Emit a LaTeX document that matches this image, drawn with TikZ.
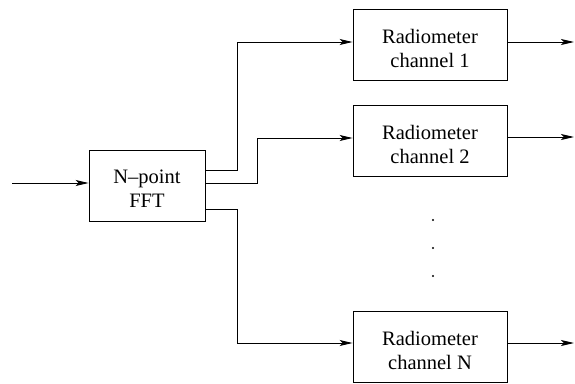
\documentclass[tikz,border=0pt]{standalone}
\usepackage{fontspec}
\setmainfont{Liberation Serif}
\usetikzlibrary{arrows.meta}
\begin{document}
\begin{tikzpicture}[x=1pt,y=-1pt,
  block/.style={draw, line width=0.9pt, inner sep=0pt},
  fftbox/.style={block, minimum width=116pt, minimum height=71pt},
  radbox/.style={block, minimum width=154pt, minimum height=71pt},
  caption/.style={align=center, inner sep=0pt,
    font=\fontsize{20.5}{24}\selectfont},
  wire/.style={line width=0.9pt, -{Stealth[length=13pt,width=6pt,inset=3pt]}}]
\useasboundingbox (0,0) rectangle (575,383);

% blocks
\node[fftbox] (fft) at (147,185.5) {};
\node[radbox] (r1) at (430,44.5) {};
\node[radbox] (r2) at (430,141) {};
\node[radbox] (rn) at (430,347) {};

% block captions, set a little below each block's centre
\node[caption] (fftt) at ([yshift=-3pt]fft.center) {N--point\\FFT};
\node[caption] (r1t) at ([yshift=-3.5pt]r1.center) {Radiometer\\channel 1};
\node[caption] (r2t) at ([yshift=-3.5pt]r2.center) {Radiometer\\channel 2};
\node[caption] (rnt) at ([yshift=-3.5pt]rn.center) {Radiometer\\channel N};

% vertical ellipsis between channel 2 and channel N
\foreach \yy [count=\i] in {220,248,276}
  \fill (433,\yy) circle[radius=1.1pt] coordinate (dot\i);

% input and output terminals
\coordinate (in) at (12,183);
\coordinate (o1) at (574,42);
\coordinate (o2) at (574,137);
\coordinate (on) at (574,343);

% input
\draw[wire] (in) -- (in -| fft.west);

% FFT to channels
\draw[wire] ([yshift=15.5pt]fft.east) -| (237,42) -- ([yshift=2.5pt]r1.west);
\draw[wire] ([yshift=2.5pt]fft.east) -| (257,138) -- ([yshift=3pt]r2.west);
\draw[wire] ([yshift=-23.5pt]fft.east) -| (237,343) -- ([yshift=4pt]rn.west);

% outputs
\draw[wire] ([yshift=2.5pt]r1.east) -- (o1);
\draw[wire] ([yshift=4pt]r2.east) -- (o2);
\draw[wire] ([yshift=4pt]rn.east) -- (on);
\end{tikzpicture}
\end{document}
